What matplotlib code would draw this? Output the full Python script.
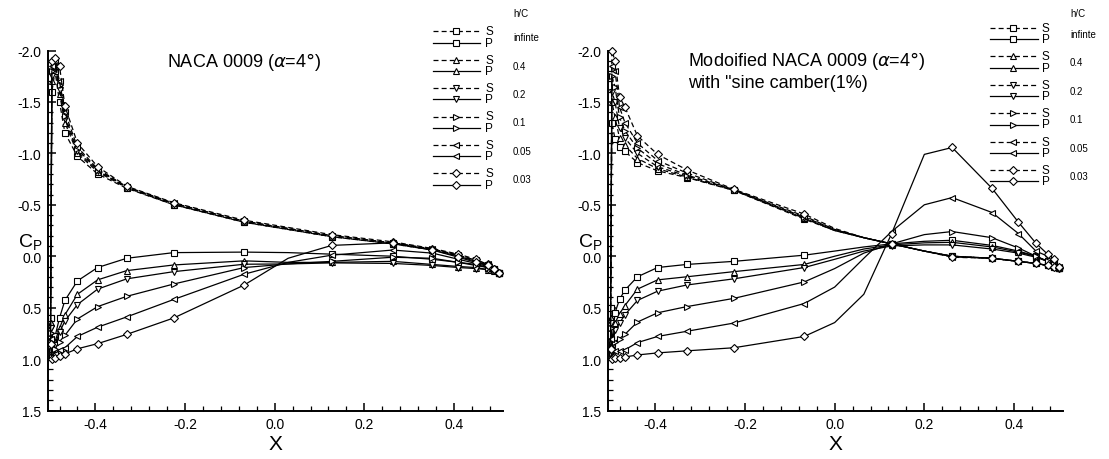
import matplotlib
matplotlib.use("Agg")
import matplotlib.pyplot as plt
from matplotlib.lines import Line2D
from matplotlib.ticker import MultipleLocator, FormatStrFormatter

plt.rcParams['font.family'] = ['Liberation Sans', 'DejaVu Sans']

# h/C cases, one marker each
hc_labels = ['infinte', '0.4', '0.2', '0.1', '0.05', '0.03']
hc_markers = ['s', '^', 'v', '>', '<', 'D']

# ---- left panel: NACA 0009 ----
x_left = [-0.5, -0.497, -0.49, -0.48, -0.468, -0.44, -0.395, -0.33, -0.225, -0.068,
          0.03, 0.127, 0.263, 0.352, 0.41, 0.449, 0.475, 0.49, 0.5]
left_nomark = [10]

left_s = [
    [0.6, -1.6, -1.8, -1.5, -1.2, -0.97, -0.8, -0.66, -0.5, -0.33, -0.26, -0.19, -0.12, -0.06, 0.0, 0.05, 0.09, 0.12, 0.16],
    [0.65, -1.7, -1.85, -1.58, -1.3, -1.0, -0.82, -0.665, -0.5, -0.33, -0.26, -0.19, -0.12, -0.06, 0.0, 0.05, 0.09, 0.12, 0.16],
    [0.7, -1.75, -1.87, -1.62, -1.33, -1.02, -0.83, -0.67, -0.51, -0.335, -0.265, -0.19, -0.125, -0.065, -0.005, 0.045, 0.09, 0.12, 0.16],
    [0.75, -1.8, -1.88, -1.66, -1.36, -1.04, -0.84, -0.67, -0.51, -0.34, -0.27, -0.2, -0.13, -0.07, -0.01, 0.04, 0.085, 0.12, 0.16],
    [0.8, -1.85, -1.9, -1.7, -1.4, -1.06, -0.85, -0.675, -0.515, -0.34, -0.27, -0.2, -0.13, -0.07, -0.01, 0.04, 0.08, 0.12, 0.16],
    [0.85, -1.9, -1.93, -1.85, -1.46, -1.1, -0.87, -0.68, -0.52, -0.35, -0.28, -0.21, -0.14, -0.075, -0.02, 0.03, 0.08, 0.12, 0.16],
]
left_p = [
    [0.6, 0.92, 0.78, 0.6, 0.43, 0.24, 0.11, 0.02, -0.035, -0.04, -0.035, -0.02, 0.0, 0.03, 0.06, 0.08, 0.11, 0.13, 0.16],
    [0.65, 0.94, 0.83, 0.7, 0.57, 0.37, 0.23, 0.14, 0.085, 0.045, 0.06, 0.06, 0.05, 0.08, 0.1, 0.11, 0.13, 0.14, 0.16],
    [0.7, 0.96, 0.86, 0.74, 0.63, 0.47, 0.32, 0.22, 0.15, 0.078, 0.075, 0.065, 0.07, 0.09, 0.11, 0.12, 0.13, 0.14, 0.16],
    [0.75, 0.98, 0.9, 0.83, 0.77, 0.61, 0.49, 0.39, 0.27, 0.11, 0.075, 0.05, 0.01, 0.02, 0.06, 0.09, 0.11, 0.13, 0.16],
    [0.8, 0.99, 0.95, 0.91, 0.89, 0.78, 0.69, 0.59, 0.42, 0.175, 0.06, -0.01, -0.06, -0.03, 0.03, 0.07, 0.1, 0.12, 0.16],
    [0.85, 1.0, 0.99, 0.97, 0.95, 0.9, 0.85, 0.76, 0.6, 0.28, 0.02, -0.105, -0.13, -0.06, 0.01, 0.06, 0.09, 0.12, 0.16],
]

# ---- right panel: modified NACA 0009 with sine camber ----
x_right = [-0.5, -0.497, -0.49, -0.48, -0.468, -0.44, -0.395, -0.33, -0.225, -0.068,
           0.0, 0.065, 0.127, 0.2, 0.262, 0.351, 0.41, 0.449, 0.475, 0.49, 0.5]
right_nomark = [10, 11, 13]

right_s = [
    [0.5, -1.3, -1.14, -1.06, -1.02, -0.91, -0.83, -0.765, -0.64, -0.36, -0.25, -0.18, -0.12, -0.05, 0.0, 0.02, 0.05, 0.07, 0.09, 0.1, 0.11],
    [0.6, -1.5, -1.35, -1.15, -1.08, -0.95, -0.85, -0.77, -0.64, -0.37, -0.25, -0.18, -0.12, -0.05, 0.0, 0.02, 0.05, 0.07, 0.09, 0.1, 0.11],
    [0.65, -1.6, -1.5, -1.25, -1.15, -1.0, -0.87, -0.78, -0.645, -0.37, -0.25, -0.18, -0.12, -0.05, 0.0, 0.02, 0.05, 0.07, 0.09, 0.1, 0.11],
    [0.7, -1.75, -1.65, -1.35, -1.22, -1.05, -0.9, -0.79, -0.645, -0.38, -0.26, -0.18, -0.12, -0.05, 0.0, 0.02, 0.05, 0.07, 0.09, 0.1, 0.11],
    [0.8, -1.85, -1.8, -1.45, -1.3, -1.1, -0.93, -0.81, -0.645, -0.39, -0.26, -0.18, -0.12, -0.05, 0.005, 0.02, 0.05, 0.07, 0.09, 0.1, 0.11],
    [0.9, -2.0, -1.9, -1.55, -1.45, -1.17, -0.99, -0.84, -0.65, -0.41, -0.27, -0.18, -0.12, -0.05, 0.01, 0.02, 0.05, 0.07, 0.09, 0.1, 0.11],
]
right_p = [
    [0.5, 0.85, 0.55, 0.42, 0.33, 0.2, 0.11, 0.08, 0.05, -0.01, -0.05, -0.09, -0.12, -0.145, -0.155, -0.105, -0.05, 0.0, 0.05, 0.08, 0.11],
    [0.6, 0.9, 0.65, 0.56, 0.48, 0.32, 0.23, 0.2, 0.15, 0.08, 0.0, -0.07, -0.11, -0.13, -0.135, -0.09, -0.04, 0.0, 0.05, 0.08, 0.11],
    [0.65, 0.92, 0.72, 0.65, 0.57, 0.43, 0.34, 0.28, 0.22, 0.11, 0.03, -0.05, -0.10, -0.11, -0.11, -0.07, -0.03, 0.01, 0.05, 0.08, 0.11],
    [0.7, 0.95, 0.83, 0.8, 0.76, 0.64, 0.55, 0.49, 0.41, 0.25, 0.12, -0.03, -0.12, -0.21, -0.24, -0.18, -0.08, 0.0, 0.05, 0.08, 0.11],
    [0.8, 0.97, 0.92, 0.92, 0.91, 0.84, 0.78, 0.73, 0.65, 0.46, 0.3, 0.02, -0.24, -0.5, -0.57, -0.425, -0.22, -0.05, 0.0, 0.05, 0.1],
    [0.9, 1.0, 0.99, 0.99, 0.98, 0.96, 0.94, 0.92, 0.89, 0.78, 0.645, 0.37, -0.22, -0.99, -1.057, -0.66, -0.33, -0.126, -0.02, 0.03, 0.1],
]

W, H = 1109, 460
fig = plt.figure(figsize=(W / 100, H / 100), dpi=100)

DASH = (0, (4, 2.5))


def style_axes(ax):
    ax.set_xlim(-0.505, 0.51)
    ax.set_ylim(1.5, -2.0)
    for s in ['top', 'right']:
        ax.spines[s].set_visible(False)
    for s in ['left', 'bottom']:
        ax.spines[s].set_linewidth(1.4)
    ax.set_xticks([-0.4, -0.2, 0.0, 0.2, 0.4])
    ax.xaxis.set_minor_locator(MultipleLocator(0.04))
    ax.yaxis.set_major_locator(MultipleLocator(0.5))
    ax.yaxis.set_minor_locator(MultipleLocator(0.1))
    ax.xaxis.set_major_formatter(FormatStrFormatter('%.1f'))
    ax.yaxis.set_major_formatter(FormatStrFormatter('%.1f'))
    ax.tick_params(which='both', direction='in', top=False, right=False)
    ax.tick_params(which='major', length=6, width=1.1, labelsize=10, pad=5)
    ax.tick_params(which='minor', length=3.5, width=0.9)
    ax.set_xlabel('X', fontsize=15, labelpad=2)


def draw_panel(ax, xs, s_data, p_data, nomark):
    marked = [i for i in range(len(xs)) if i not in nomark]
    for k in range(len(hc_labels)):
        kw = dict(color='black', marker=hc_markers[k], markersize=4.5 if hc_markers[k] != 'D' else 3.8,
                  markerfacecolor='white', markeredgecolor='black', markeredgewidth=0.8,
                  markevery=marked, clip_on=False)
        ax.plot(xs, s_data[k], linestyle=DASH, linewidth=0.9, **kw)
        ax.plot(xs, p_data[k], linestyle='-', linewidth=0.9, **kw)


def draw_legend(x0, x1, xm, xt, xl, y_top):
    fig.text(xl / W, 1 - 14 / H, 'h/C', fontsize=7, va='center', ha='left')
    for k, lab in enumerate(hc_labels):
        ys = y_top + 28.4 * k
        yp = ys + 11.3
        for yy, ls, sp in [(ys, DASH, 'S'), (yp, '-', 'P')]:
            ln = Line2D([x0 / W, xm / W, x1 / W], [1 - yy / H] * 3, transform=fig.transFigure,
                        color='black', linestyle=ls, linewidth=0.9, marker=hc_markers[k],
                        markersize=4.5 if hc_markers[k] != 'D' else 3.8,
                        markerfacecolor='white', markeredgecolor='black', markeredgewidth=0.8,
                        markevery=[1])
            fig.add_artist(ln)
            fig.text(xt / W, 1 - yy / H, sp, fontsize=8.5, va='center', ha='left')
        fig.text(xl / W, 1 - (ys + 6) / H, lab, fontsize=7, va='center', ha='left')


ax1 = fig.add_axes([48.3 / W, 48.5 / H, 455.0 / W, 360.0 / H])
ax2 = fig.add_axes([608.3 / W, 48.5 / H, 455.0 / W, 360.0 / H])

draw_panel(ax1, x_left, left_s, left_p, left_nomark)
draw_panel(ax2, x_right, right_s, right_p, right_nomark)
style_axes(ax1)
style_axes(ax2)

ax1.text(0.43, 0.97, r'NACA 0009 ($\alpha$=4$\degree$)', transform=ax1.transAxes,
         fontsize=13, ha='center', va='center')
ax2.text(0.175, 0.975, r'Modoified NACA 0009 ($\alpha$=4$\degree$)', transform=ax2.transAxes,
         fontsize=13, ha='left', va='center')
ax2.text(0.175, 0.912, 'with "sine camber(1%)', transform=ax2.transAxes,
         fontsize=13, ha='left', va='center')

for xc in [30, 590]:
    fig.text(xc / W, 1 - 242 / H, r'$\mathregular{C_P}$', fontsize=14, ha='center', va='center')

draw_legend(433, 480, 456, 485, 513, 32.3)
draw_legend(990, 1038, 1013, 1042, 1070, 29.0)

fig.savefig('out.png', dpi=100)
